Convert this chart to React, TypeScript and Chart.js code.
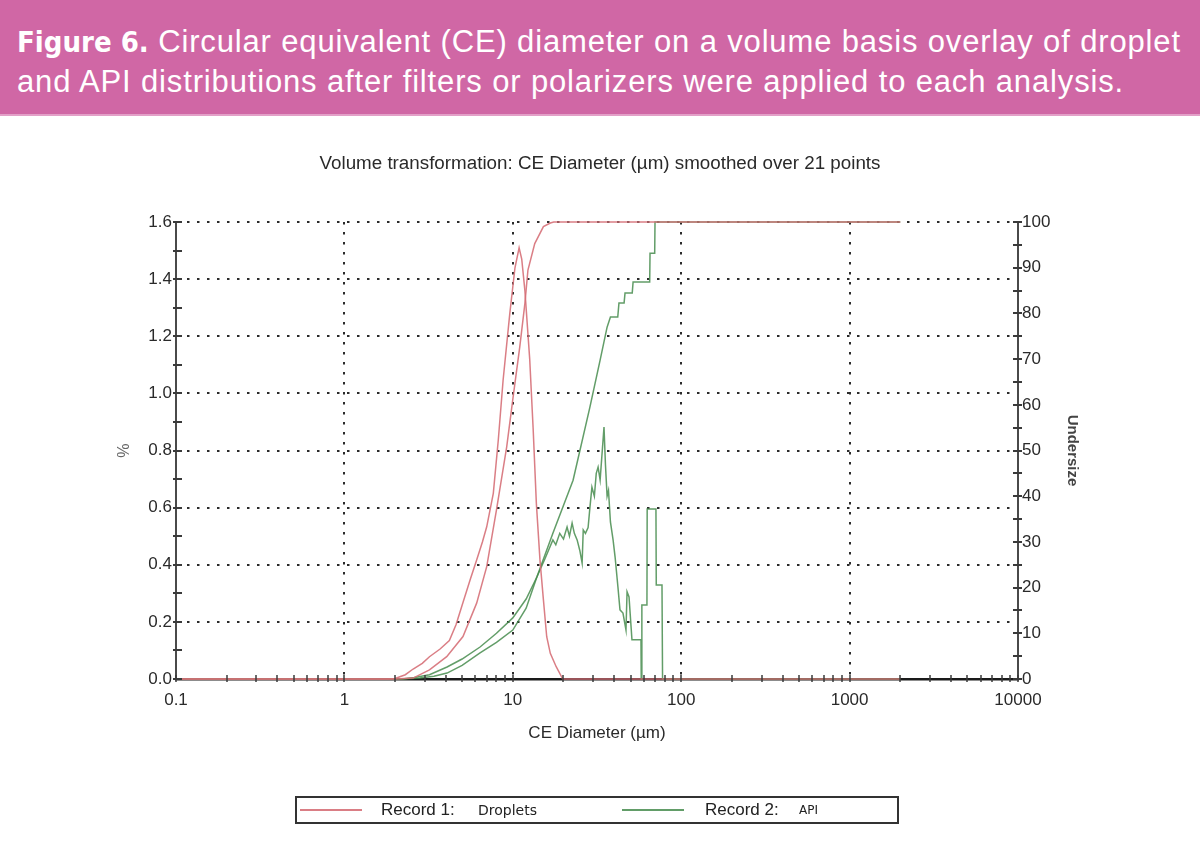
import React, { useEffect, useRef } from "react";
import { Chart, registerables } from "chart.js";

Chart.register(...registerables);

// ---------- data ----------
const dropletFreqSize = [0.1, 1.8, 2.0, 2.3, 2.56, 2.9, 3.2, 3.7, 4.2, 4.6, 5.06, 5.6, 6.1, 6.6, 7.0, 7.66, 8.2, 8.76, 9.6, 10.3, 10.9, 11.3, 11.8, 12.6, 13.2, 13.8, 14.5, 15.2, 15.9, 16.7, 18.1, 19.8, 2000];
const dropletFreqPct = [0, 0, 0.002, 0.015, 0.035, 0.055, 0.078, 0.105, 0.135, 0.19, 0.268, 0.35, 0.417, 0.48, 0.533, 0.65, 0.837, 1.047, 1.28, 1.44, 1.51, 1.47, 1.36, 1.12, 0.88, 0.615, 0.417, 0.277, 0.148, 0.09, 0.043, 0, 0];

const dropletCumSize = [0.1, 2.0, 2.56, 3.2, 4.05, 5.06, 6.1, 7.0, 8.0, 9.2, 10.05, 11.0, 11.8, 12.3, 13.5, 15.2, 16.7, 17.5, 2000];
const dropletCumPct = [0, 0, 0.2, 2, 4.9, 9.3, 16.6, 24.6, 37, 50.8, 61.8, 72.7, 82.2, 89.5, 95.3, 99, 99.8, 100, 100];

const apiFreqSize = [0.1, 2.2, 2.6, 3.2, 4.07, 5.0, 6.39, 8.0, 10, 12, 13.9, 15.5, 17.3, 18, 19, 20, 21, 21.7, 22.5, 23.2, 24.1, 25, 25.8, 26.2, 27, 28, 28.7, 29.5, 30.5, 31.3, 32.1, 33.0, 34.8, 35.5, 36.3, 37, 38, 39.4, 40.5, 42.1, 43.3, 45.1, 47.0, 47.7, 49.0, 51.0, 57.7, 57.9, 58.3, 58.5, 62.6, 62.8, 70.8, 71.1, 76.9, 77.5, 2000];
const apiFreqPct = [0, 0, 0.005, 0.015, 0.042, 0.07, 0.112, 0.16, 0.214, 0.28, 0.357, 0.42, 0.487, 0.47, 0.51, 0.49, 0.532, 0.5, 0.546, 0.51, 0.487, 0.45, 0.406, 0.522, 0.51, 0.53, 0.6, 0.672, 0.64, 0.72, 0.742, 0.697, 0.882, 0.75, 0.64, 0.66, 0.55, 0.487, 0.427, 0.322, 0.242, 0.231, 0.172, 0.305, 0.287, 0.137, 0.137, 0, 0, 0.259, 0.259, 0.595, 0.595, 0.329, 0.329, 0, 0];

const apiCumSize = [0.1, 2.2, 2.8, 3.4, 4.07, 5.0, 6.39, 8.0, 10, 12, 13.9, 17.3, 22.8, 28.7, 33.0, 36.3, 38.0, 42.0, 42.7, 45.8, 46.4, 51.2, 51.8, 65.0, 65.3, 69.6, 69.9, 2000];
const apiCumPct = [0, 0, 0.2, 0.6, 1.3, 3, 5.7, 8, 10.7, 15.5, 22.3, 31.9, 43.5, 59.5, 69.8, 77, 79.2, 79.2, 82.3, 82.3, 84.5, 84.5, 86.9, 86.9, 93.2, 93.2, 100, 100];

const xMajorTicks = [0.1, 1, 10, 100, 1000, 10000];
const xMinorMultipliers = [2, 3, 4, 5, 6, 7, 8, 9];
const leftAxisMax = 1.6;
const rightAxisMax = 100;

const chartTitle = "Volume transformation: CE Diameter (\u00b5m) smoothed over 21 points";
const xTitle = "CE Diameter (\u00b5m)";
const leftTitle = "%";
const rightTitle = "Undersize";

const RED = "rgba(214,112,120,0.9)";
const GREEN = "rgba(70,140,78,0.85)";
const FONT = "'Liberation Sans', Arial, sans-serif";

function pts(xs: number[], ys: number[]) {
  return xs.map((x, i) => ({ x, y: ys[i] }));
}

const crossTicks = {
  id: "crossTicks",
  afterDraw(chart: any) {
    const { ctx, chartArea } = chart;
    const { x, y, y2 } = chart.scales;
    ctx.save();
    ctx.strokeStyle = "#3a3a3a";
    ctx.lineWidth = 2;
    const line = (x1: number, y1: number, x2: number, y2p: number) => {
      ctx.beginPath();
      ctx.moveTo(x1, y1);
      ctx.lineTo(x2, y2p);
      ctx.stroke();
    };
    y.ticks.forEach((t: any) => {
      const py = Math.round(y.getPixelForValue(t.value));
      line(chartArea.left - 3, py, chartArea.left + 6, py);
    });
    y2.ticks.forEach((t: any) => {
      const py = Math.round(y2.getPixelForValue(t.value));
      line(chartArea.right - 5, py, chartArea.right + 4, py);
    });
    ctx.lineWidth = 1.5;
    x.ticks.forEach((t: any) => {
      const px = Math.round(x.getPixelForValue(t.value));
      line(px, chartArea.bottom - 4, px, chartArea.bottom + 3);
    });
    ctx.restore();
  },
};

function ChartView() {
  const ref = useRef<HTMLCanvasElement | null>(null);
  useEffect(() => {
    if (!ref.current) return;
    const xTicks: number[] = [];
    for (let i = 0; i < xMajorTicks.length - 1; i++) {
      xTicks.push(xMajorTicks[i]);
      xMinorMultipliers.forEach((m) => xTicks.push(+(xMajorTicks[i] * m).toPrecision(6)));
    }
    xTicks.push(xMajorTicks[xMajorTicks.length - 1]);
    const innerMajors = xMajorTicks.slice(1, -1);

    const chart = new Chart(ref.current, {
      type: "line",
      data: {
        datasets: [
          { label: "Record 1: Droplets (cum)", data: pts(dropletCumSize, dropletCumPct), yAxisID: "y2", borderColor: RED },
          { label: "Record 1: Droplets", data: pts(dropletFreqSize, dropletFreqPct), yAxisID: "y", borderColor: RED },
          { label: "Record 2: API (cum)", data: pts(apiCumSize, apiCumPct), yAxisID: "y2", borderColor: GREEN },
          { label: "Record 2: API", data: pts(apiFreqSize, apiFreqPct), yAxisID: "y", borderColor: GREEN },
        ].map((d) => ({ ...d, borderWidth: 1.5, pointRadius: 0, tension: 0, fill: false, clip: 6 })) as any,
      },
      plugins: [crossTicks],
      options: {
        animation: false,
        responsive: false,
        maintainAspectRatio: false,
        layout: { padding: { left: 110, right: 110, top: 0, bottom: 99 } },
        plugins: {
          legend: { display: false },
          tooltip: { enabled: false },
          title: {
            display: true,
            text: chartTitle,
            color: "#2a2a2a",
            font: { family: FONT, size: 18.8, weight: "normal" },
            padding: { top: 34.5, bottom: 47 },
          },
        },
        scales: {
          x: {
            type: "logarithmic",
            position: "bottom",
            min: 0.1,
            max: 10000,
            afterBuildTicks: (scale: any) => {
              scale.ticks = xTicks.map((v) => ({ value: v, major: xMajorTicks.includes(v) }));
            },
            afterFit: (scale: any) => {
              scale.height = 75;
            },
            ticks: {
              autoSkip: false,
              maxRotation: 0,
              padding: 11,
              color: "#2a2a2a",
              font: { family: FONT, size: 17 },
              callback: (v: any) => (xMajorTicks.includes(Number(v)) ? String(v) : ""),
            },
            grid: {
              drawTicks: false,
              lineWidth: 2,
              color: (ctx: any) => (ctx.tick && innerMajors.includes(ctx.tick.value) ? "#2b2b2b" : "rgba(0,0,0,0)"),
            },
            border: { display: true, color: "#1a1a1a", width: 2.5, dash: [2.5, 7.5] },
            title: {
              display: true,
              text: xTitle,
              color: "#2a2a2a",
              font: { family: FONT, size: 17 },
              padding: { top: 0, bottom: 10.8 },
            },
          },
          y: {
            type: "linear",
            position: "left",
            min: 0,
            max: leftAxisMax,
            afterFit: (scale: any) => {
              scale.width = 66;
            },
            ticks: {
              stepSize: 0.1,
              padding: 4,
              color: "#2a2a2a",
              font: { family: FONT, size: 17 },
              autoSkip: false,
              callback: (v: any) => (Math.round(Number(v) * 10) % 2 === 0 ? Number(v).toFixed(1) : ""),
            },
            grid: {
              drawTicks: false,
              lineWidth: 2,
              color: (ctx: any) => {
                const v = ctx.tick ? Math.round(ctx.tick.value * 10) : 1;
                return v > 0 && v % 2 === 0 ? "#2b2b2b" : "rgba(0,0,0,0)";
              },
            },
            border: { display: true, color: "#4a4a4a", width: 2, dash: [2.5, 7.5] },
            title: {
              display: true,
              text: leftTitle,
              color: "#666",
              font: { family: FONT, size: 16 },
              padding: { top: 5.4, bottom: 0 },
            },
          },
          y2: {
            type: "linear",
            position: "right",
            min: 0,
            max: rightAxisMax,
            afterFit: (scale: any) => {
              scale.width = 72;
            },
            ticks: {
              stepSize: 5,
              padding: 4,
              autoSkip: false,
              color: "#2a2a2a",
              font: { family: FONT, size: 17 },
              callback: (v: any) => (Number(v) % 10 === 0 ? String(v) : ""),
            },
            grid: { drawOnChartArea: false, drawTicks: false },
            border: { display: true, color: "#4a4a4a", width: 2 },
            title: {
              display: true,
              text: rightTitle,
              color: "#444",
              font: { family: FONT, size: 15, weight: "bold" },
              padding: { top: 9, bottom: 0 },
            },
          },
        },
      } as any,
    });
    return () => chart.destroy();
  }, []);
  return <canvas ref={ref} width={1200} height={735} style={{ position: "absolute", left: 0, top: 118, width: 1200, height: 735 }} />;
}

export default function App() {
  return (
    <div style={{ position: "absolute", left: 0, top: 0, width: 1200, height: 853, background: "#fff", overflow: "hidden" }}>
      <div
        style={{
          position: "absolute",
          left: 0,
          top: 0,
          width: 1200,
          height: 116,
          background: "#d067a5",
          borderBottom: "2px solid #e3a0c8",
          color: "#fff",
          fontFamily: FONT,
          fontSize: 31,
          letterSpacing: "0.85px",
          lineHeight: "39px",
          paddingLeft: 17,
          paddingTop: 22,
          boxSizing: "border-box",
          whiteSpace: "nowrap",
        }}
      >
        <div>
          <span style={{ fontFamily: "'Liberation Sans Narrow', 'DejaVu Sans Condensed', Arial, sans-serif", fontWeight: "bold", letterSpacing: 0, fontSize: 29 }}>Figure 6.</span> Circular equivalent (CE) diameter on a volume basis overlay of droplet
        </div>
        <div>and API distributions after filters or polarizers were applied to each analysis.</div>
      </div>
      <ChartView />
      <div
        style={{
          position: "absolute",
          left: 295,
          top: 796,
          width: 604,
          height: 28,
          border: "2px solid #333",
          boxSizing: "border-box",
          fontFamily: FONT,
          color: "#222",
        }}
      >
        <div style={{ position: "absolute", left: 3, top: 11, width: 62, height: 2, background: RED }} />
        <div style={{ position: "absolute", left: 84, top: 2, fontSize: 17, lineHeight: "20px" }}>Record 1:</div>
        <div style={{ position: "absolute", left: 181, top: 3, fontSize: 14, lineHeight: "18px", fontFamily: "'DejaVu Sans', sans-serif" }}>Droplets</div>
        <div style={{ position: "absolute", left: 325, top: 11, width: 62, height: 2, background: GREEN }} />
        <div style={{ position: "absolute", left: 408, top: 2, fontSize: 17, lineHeight: "20px" }}>Record 2:</div>
        <div style={{ position: "absolute", left: 502, top: 4, fontSize: 12, lineHeight: "16px", fontFamily: "'DejaVu Sans', sans-serif" }}>API</div>
      </div>
    </div>
  );
}
